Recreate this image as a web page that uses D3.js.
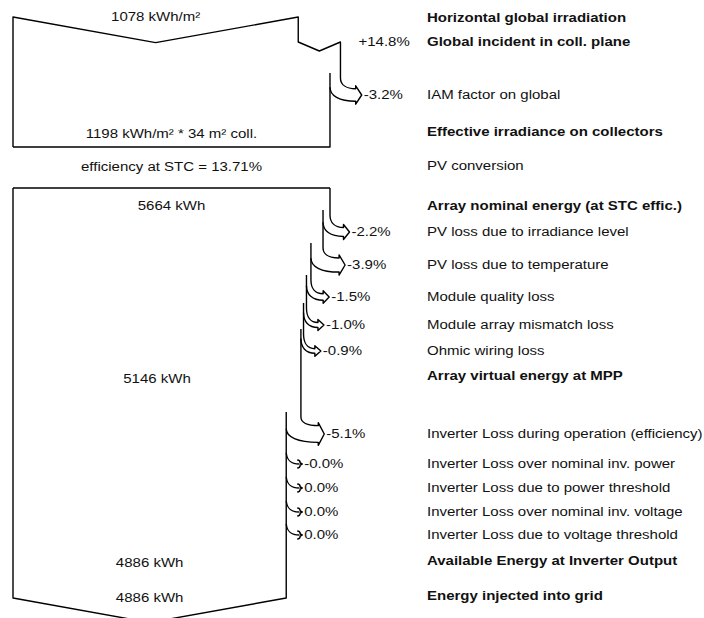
<!DOCTYPE html>
<html>
<head>
<meta charset="utf-8">
<script src="https://cdn.jsdelivr.net/npm/d3@7/dist/d3.min.js"></script>
<style>
  html, body { margin: 0; padding: 0; background: #fff; }
  svg { display: block; }
  text { font-family: "Liberation Sans", Arial, sans-serif; font-size: 12px; fill: #111; }
</style>
</head>
<body>
<svg id="chart" width="704" height="618"></svg>
<script>
// ---------- data ----------
const flowLabels = [
  "Horizontal global irradiation",
  "Global incident in coll. plane",
  "IAM factor on global",
  "Effective irradiance on collectors",
  "PV conversion",
  "Array nominal energy (at STC effic.)",
  "PV loss due to irradiance level",
  "PV loss due to temperature",
  "Module quality loss",
  "Module array mismatch loss",
  "Ohmic wiring loss",
  "Array virtual energy at MPP",
  "Inverter Loss during operation (efficiency)",
  "Inverter Loss over nominal inv. power",
  "Inverter Loss due to power threshold",
  "Inverter Loss over nominal inv. voltage",
  "Inverter Loss due to voltage threshold",
  "Available Energy at Inverter Output",
  "Energy injected into grid"
];
const flowKinds = ["total","gain","loss","total","info","total",
  "loss","loss","loss","loss","loss","total",
  "loss","loss","loss","loss","loss","total","total"];
const flowPct = [null, 14.8, -3.2, null, null, null,
  -2.2, -3.9, -1.5, -1.0, -0.9, null,
  -5.1, -0.0, 0.0, 0.0, 0.0, null, null];

const irrHorizontal = 1078;     // kWh/m²
const irrEffective = 1198;      // kWh/m²
const collectorArea = 34;       // m²
const stcEfficiency = 13.71;    // %
const arrayNominal = 5664;      // kWh
const arrayMpp = 5146;          // kWh
const inverterOutput = 4886;    // kWh
const gridInjected = 4886;      // kWh

// ---------- layout ----------
const rowBase = [22, 46, 99, 136, 170, 210, 236, 269, 301, 329, 355, 380,
                 438, 468, 492, 516, 539, 565, 600];
const X0 = 13, X1 = 330;
const labelX = 427;
const SX = 1.25;          // horizontal stretch of the text
const slope = 0.18;       // chevron slope

const svg = d3.select("#chart");
const xIrr = d3.scaleLinear().domain([0, irrEffective]).range([X0, X1]);
const xEn = d3.scaleLinear().domain([0, arrayNominal]).range([X0, X1]);

const lines = svg.append("g").attr("fill", "none").attr("stroke", "#000")
  .attr("stroke-width", 1.4).attr("stroke-linejoin", "round");
const texts = svg.append("g");

function txt(x, y, s, anchor, bold) {
  texts.append("text")
    .attr("transform", `translate(${x},${y}) scale(${SX},1)`)
    .attr("text-anchor", anchor || "start")
    .attr("font-weight", bold ? "bold" : "normal")
    .text(s);
}
function fmtPct(v) {
  const sign = (v < 0 || Object.is(v, -0)) ? "-" : (v > 0 ? "+" : "");
  return sign + Math.abs(v).toFixed(1) + "%";
}
const fmtInt = d3.format("d");

// loss arrow: outer x, inner x, arrow centre y
function lossArrow(xo, xi, ya) {
  const w = Math.max(0, xo - xi);
  const tip = xo + 16 + 0.5 * w;
  const xh = tip - 6;
  const p = d3.path();
  if (w > 1) {
    const yc = ya - 17;
    const ycIn = yc + w * 0.6 + 3;
    const yTopOut = ya - w / 2 - 1, yBotOut = ya + w / 2 + 1;
    p.moveTo(xo, yc);
    p.bezierCurveTo(xo, yc + 0.6 * (yTopOut - yc), xo + 0.35 * (xh - xo), yTopOut, xh, yTopOut);
    p.lineTo(xh, yTopOut - 3);
    p.lineTo(tip, ya);
    p.lineTo(xh, yBotOut + 3);
    p.lineTo(xh, yBotOut);
    p.bezierCurveTo(xi + 0.35 * (xh - xi), yBotOut, xi, ycIn + 0.6 * (yBotOut - ycIn), xi, ycIn);
    lines.append("path").attr("d", p.toString());
    return { yc, innerTop: yc - 5, tip, w };
  }
  // zero loss: small hook with a brace-like head
  const yc = ya - 11;
  p.moveTo(xo, yc);
  p.bezierCurveTo(xo + 1, ya - 3, xo + 5, ya, xh + 3, ya);
  p.moveTo(xh + 1, ya - 4);
  p.quadraticCurveTo(xh + 4, ya - 4, xh + 4, ya - 1);
  p.lineTo(tip, ya);
  p.lineTo(xh + 4, ya + 1);
  p.quadraticCurveTo(xh + 4, ya + 4, xh + 1, ya + 4);
  lines.append("path").attr("d", p.toString());
  return { yc, innerTop: yc, tip: tip, w };
}

// ---------- top (irradiation) block ----------
const hx = xIrr(irrHorizontal);
const gVal = irrHorizontal * (1 + flowPct[1] / 100);
const gx = xIrr(gVal);
const eVal = gVal * (1 + flowPct[2] / 100);
const ex = xIrr(eVal);
const yTop = rowBase[0] - 5;
const ya1 = rowBase[1] - 4;
const iam = lossArrow(gx, ex, rowBase[2] - 4);
const yBox1Bottom = 147;

lines.append("path").attr("d", [
  "M", X0, yBox1Bottom, "L", X0, yTop,
  "L", (X0 + hx) / 2, yTop + (hx - X0) / 2 * slope,
  "L", hx, yTop, "L", hx, ya1,
  "L", (hx + gx) / 2, ya1 + 9, "L", gx, ya1, "L", gx, iam.yc
].join(" "));
lines.append("path").attr("d", ["M", X0, yBox1Bottom, "L", ex, yBox1Bottom, "L", ex, iam.innerTop].join(" "));

txt(gx + 18, rowBase[1], fmtPct(flowPct[1]), "start", false);
txt(iam.tip + 2, rowBase[2], fmtPct(flowPct[2]), "start", false);

txt((X0 + hx) / 2, 21, fmtInt(irrHorizontal) + " kWh/m²", "middle");
txt((X0 + ex) / 2, 138, fmtInt(irrEffective) + " kWh/m² * " + collectorArea + " m² coll.", "middle");
txt((X0 + ex) / 2, 171, "efficiency at STC = " + stcEfficiency.toFixed(2) + "%", "middle");

// ---------- energy block ----------
const yBox2Top = 188;
let cur = arrayNominal;
let edgeTopY = yBox2Top;
lines.append("path").attr("d", ["M", X0, yBox2Top, "L", xEn(cur), yBox2Top].join(" "));
flowPct.forEach((v, i) => {
  if (i < 6 || flowKinds[i] !== "loss") return;
  const next = cur * (1 + v / 100);
  const xo = xEn(cur), xi = xEn(next);
  const a = lossArrow(xo, xi, rowBase[i] - 4);
  if (a.w > 1) {
    lines.append("path").attr("d", ["M", xo, edgeTopY, "L", xo, a.yc].join(" "));
    edgeTopY = a.innerTop;
  }
  txt(a.tip + 2, rowBase[i], fmtPct(v), "start", false);
  cur = next;
});
const xf = xEn(cur);
const yBox2Bottom = 598;
lines.append("path").attr("d", [
  "M", xf, edgeTopY, "L", xf, yBox2Bottom,
  "L", (X0 + xf) / 2, yBox2Bottom + (xf - X0) / 2 * slope,
  "L", X0, yBox2Bottom, "L", X0, yBox2Top
].join(" "));

txt((X0 + X1) / 2, 210, fmtInt(arrayNominal) + " kWh", "middle");
txt((X0 + xEn(arrayMpp)) / 2, 383, fmtInt(arrayMpp) + " kWh", "middle");
txt((X0 + xf) / 2, 567, fmtInt(inverterOutput) + " kWh", "middle");
txt((X0 + xf) / 2, 602, fmtInt(gridInjected) + " kWh", "middle");

// ---------- right-hand labels ----------
flowLabels.forEach((s, i) => {
  const bold = flowKinds[i] === "total" || flowKinds[i] === "gain";
  txt(labelX, rowBase[i], s, "start", bold);
});
</script>
</body>
</html>
